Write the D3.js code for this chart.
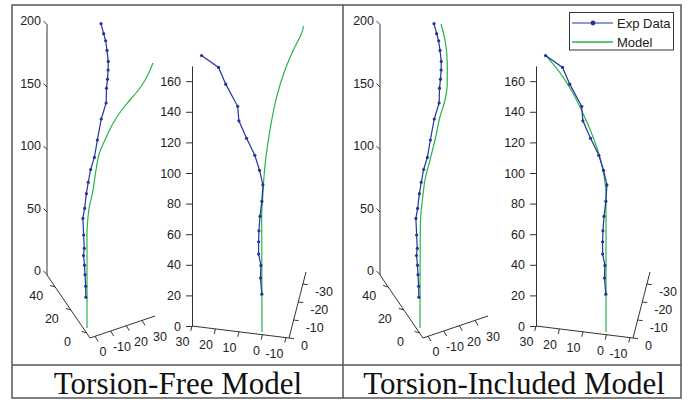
<!DOCTYPE html>
<html>
<head>
<meta charset="utf-8">
<script src="https://cdn.jsdelivr.net/npm/d3@7"></script>
<style>
body{margin:0;background:#fff}
text{font-family:"Liberation Sans",Arial,sans-serif;fill:#222}
</style>
</head>
<body>
<svg id="fig" width="688" height="403"></svg>
<script>
// experimental centreline, [lateral, height], as seen in view A (side) and view B (front)
var expA = [[-0.9,24.6],[-1.1,33.4],[-1.6,42.7],[-2.0,50.3],[-2.8,58.0],[-2.2,63.7],[-2.7,74.4],[-3.3,87.7],
            [-1.9,95.7],[-0.5,107.5],[1.0,116.6],[2.9,126.8],[5.9,136.5],[8.3,150.4],[11.4,167.2],[15.3,180.0],
            [15.6,191.9],[16.4,199.1],[16.9,206.4],[17.0,213.3],[16.0,222.1],[14.9,229.8],[13.3,235.5],[11.2,243.5]]
var expB = [[-0.1,24.7],[-1.0,35.3],[-0.7,43.5],[-2.2,50.9],[-2.2,59.0],[-2.0,66.1],[-1.3,75.6],[-0.1,85.4],
            [0.6,96.1],[-1.6,105.7],[-4.7,115.5],[-10.1,126.6],[-15.1,138.0],[-15.9,147.5],[-23.7,162.0],
            [-28.4,172.9],[-39.5,180.7]]
// model centrelines
var freeA = [[0,0],[0,76.0],[0.6,86.4],[1.8,96.8],[4.4,108.0],[6.0,118.4],[7.2,126.4],[10.0,140.0],[14.4,150.4],
             [21.0,164.0],[27.8,174.4],[34.4,182.4],[42.4,192.0],[47.8,200.8],[52.8,212.0]]
var freeB = [[0,0],[-0.2,75.4],[0.5,88.4],[1.3,101.5],[2.6,114.6],[5.2,132.0],[9.6,153.8],[15.0,171.2],
             [20.5,184.3],[26.6,197.4],[27.1,200.0]]
var inclA = [[0,0],[0.2,78.4],[0.8,92.0],[2.2,105.0],[4.0,118.4],[8.0,134.4],[12.0,150.4],[16.0,169.0],
             [20.0,182.4],[21.8,195.8],[21.8,211.8],[20.0,230.4],[16.8,243.2]]
var inclB = [[0,0],[0,90.0],[-1.1,100.8],[-3.9,113.9],[-8.3,127.0],[-14.8,142.3],[-22.4,157.5],[-30.1,169.5],[-39.9,181.5]]

var zTicksA = [0,50,100,150,200]
var sideTicksA = [40,20,0]
var frontLabelsA = ["0","-10","20","30"]
var zTicksB = [0,20,40,60,80,100,120,140,160]
var frontTicksB = [30,20,10,0,-10]
var depthTicksB = [0,-10,-20,-30]
var captions = ["Torsion-Free Model","Torsion-Included Model"]
var legendNames = ["Exp Data","Model"]

var blue = "#26339b", green = "#22b64a", axisCol = "#333"
var svg = d3.select("#fig")

function drawCurves(g, xs, ys, exp, model){
    var line = d3.line().x(function(d){return xs(d[0])}).y(function(d){return ys(d[1])})
    g.append("path").attr("d", line.curve(d3.curveMonotoneY)(model))
        .attr("fill","none").attr("stroke",green).attr("stroke-width",1.2)
    g.append("path").attr("d", line.curve(d3.curveLinear)(exp))
        .attr("fill","none").attr("stroke",blue).attr("stroke-width",1.2)
    g.selectAll(".pt").data(exp).enter().append("circle")
        .attr("cx",function(d){return xs(d[0])}).attr("cy",function(d){return ys(d[1])})
        .attr("r",1.6).attr("fill",blue)
}

function seg(g, x1, y1, x2, y2){
    g.append("line").attr("x1",x1).attr("y1",y1).attr("x2",x2).attr("y2",y2)
        .attr("stroke",axisCol).attr("stroke-width",1)
}

function drawViewA(dx, model){
    var g = svg.append("g").attr("transform","translate("+dx+",0)")
    // vertical axis with slanted ticks
    var z = d3.scaleLinear().domain([0,200]).range([274.5,24.5])
    seg(g, 47, 275, 47, 24.5)
    zTicksA.forEach(function(v){
        seg(g, 47, z(v), 43.5, z(v)-3.5)
        g.append("text").attr("x",41).attr("y",z(v)-3.5).attr("dy","0.35em")
            .attr("text-anchor","end").attr("font-size",12.5).text(v)
    })
    // side axis (down-right)
    var sx = d3.scaleLinear().domain([50.4,-4.4]).range([47,90])
    var sy = d3.scaleLinear().domain([50.4,-4.4]).range([275,338])
    seg(g, sx(50.4), sy(50.4), sx(-4.4), sy(-4.4))
    sideTicksA.forEach(function(v){
        seg(g, sx(v), sy(v), sx(v)-5, sy(v)-1.5)
        g.append("text").attr("x",sx(v)-19).attr("y",sy(v)+8.5).attr("dy","0.35em")
            .attr("text-anchor","middle").attr("font-size",12.5).text(v)
    })
    // front axis (right-up)
    seg(g, 90, 338, 155, 316)
    var fx = d3.scaleLinear().domain([0,3]).range([95,142])
    var fy = d3.scaleLinear().domain([0,3]).range([336.3,320.4])
    var lx = d3.scaleLinear().domain([0,3]).range([103,160])
    var ly = d3.scaleLinear().domain([0,3]).range([352,337])
    frontLabelsA.forEach(function(t,i){
        seg(g, fx(i), fy(i), fx(i)+3, fy(i)+5)
        g.append("text").attr("x",lx(i)).attr("y",ly(i)).attr("dy","0.35em")
            .attr("text-anchor","middle").attr("font-size",12.5).text(t)
    })
    var xs = d3.scaleLinear().domain([0,100]).range([87,212])
    var ys = d3.scaleLinear().domain([0,100]).range([328,203])
    drawCurves(g, xs, ys, expA, model)
}

function drawViewB(dx, model){
    var g = svg.append("g").attr("transform","translate("+dx+",0)")
    var z = d3.scaleLinear().domain([0,170]).range([326,65.9])
    var ax = g.append("g").attr("transform","translate(192,0)")
        .call(d3.axisLeft(z).tickValues(zTicksB).tickSize(6).tickPadding(5).tickSizeOuter(0))
    ax.attr("font-family",null).attr("font-size",12.5)
    ax.selectAll("path,line").attr("stroke",axisCol)
    ax.selectAll("text").attr("fill","#222")
    // front axis
    var fx = d3.scaleLinear().domain([30,-10]).range([192,286])
    var fy = d3.scaleLinear().domain([30,-10]).range([326,337.6])
    seg(g, 192, 326, 289, 338)
    frontTicksB.forEach(function(v){
        seg(g, fx(v), fy(v), fx(v)-1.3, fy(v)+5)
        g.append("text").attr("x",fx(v)-2.5).attr("y",fy(v)+16).attr("dy","0.35em")
            .attr("text-anchor","end").attr("font-size",12.5).text(v)
    })
    // depth axis
    var dxs = d3.scaleLinear().domain([0,-36.7]).range([289,306])
    var dys = d3.scaleLinear().domain([0,-36.7]).range([338,272])
    seg(g, 289, 338, 306, 272)
    depthTicksB.forEach(function(v){
        seg(g, dxs(v), dys(v), dxs(v)+5, dys(v)+0.6)
        g.append("text").attr("x",dxs(v)+12).attr("y",dys(v)+8).attr("dy","0.35em")
            .attr("text-anchor","start").attr("font-size",12.5).text(v)
    })
    var xs = d3.scaleLinear().domain([0,100]).range([262,415])
    var ys = d3.scaleLinear().domain([0,100]).range([332,179])
    drawCurves(g, xs, ys, expB, model)
}

drawViewA(0, freeA)
drawViewB(0, freeB)
drawViewA(333, inclA)
drawViewB(344, inclB)

// legend
var leg = svg.append("g")
leg.append("rect").attr("x",569.5).attr("y",12.5).attr("width",104).attr("height",37.5)
    .attr("fill","#fff").attr("stroke","#333").attr("stroke-width",1)
leg.append("line").attr("x1",572).attr("x2",613).attr("y1",23).attr("y2",23).attr("stroke",blue).attr("stroke-width",1.2)
leg.append("circle").attr("cx",593).attr("cy",23).attr("r",2.4).attr("fill",blue)
leg.append("line").attr("x1",572).attr("x2",613).attr("y1",42).attr("y2",42).attr("stroke",green).attr("stroke-width",1.5)
legendNames.forEach(function(n,i){
    leg.append("text").attr("x",617).attr("y",23+i*19.5).attr("dy","0.35em").attr("font-size",13).text(n)
})

// frame
var fr = svg.append("g").attr("fill","none").attr("stroke","#555").attr("stroke-width",1.5)
fr.append("rect").attr("x",12).attr("y",5).attr("width",669).attr("height",393)
fr.append("line").attr("x1",12).attr("x2",681).attr("y1",365).attr("y2",365)
fr.append("line").attr("x1",343).attr("x2",343).attr("y1",5).attr("y2",398)

svg.selectAll(".cap").data(captions).enter().append("text")
    .attr("x",function(d,i){return i ? 514 : 178}).attr("y",394)
    .attr("text-anchor","middle").style("font-family","'Liberation Serif','Times New Roman',serif")
    .attr("font-size",31).style("fill","#111").text(function(d){return d})
</script>
</body>
</html>
